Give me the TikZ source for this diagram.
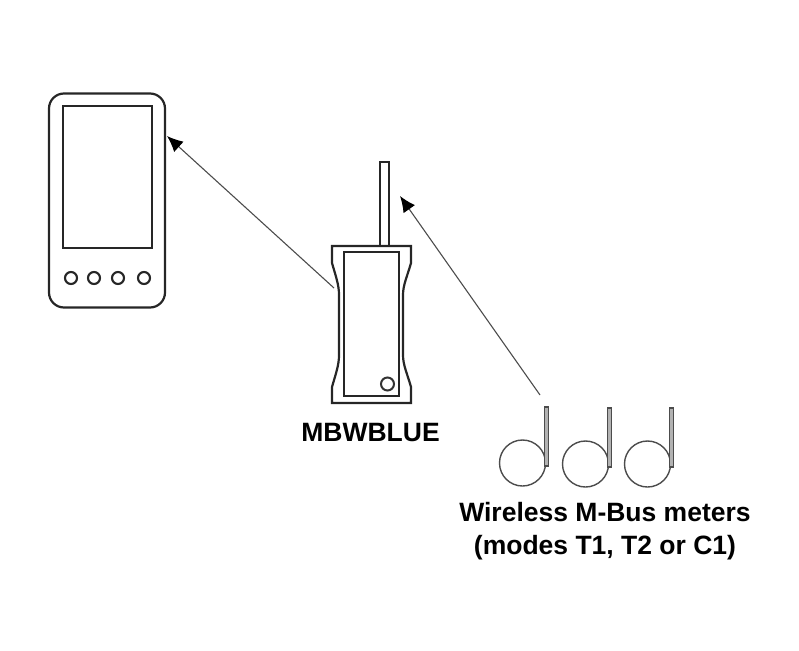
\documentclass[tikz,border=0pt]{standalone}
\usepackage{fontspec}
\setmainfont{Liberation Sans}
\usetikzlibrary{arrows.meta}
\tikzset{
  heavy/.style={draw=black!85,line width=2.2pt},
  medium/.style={draw=black!80,line width=2pt},
  meterbody/.style={circle,draw=black!70,line width=1.4pt,minimum width=46pt,inner sep=0pt},
  meterant/.style={draw=black!70,fill=black!30,line width=1.1pt,minimum width=3.6pt,inner sep=0pt},
  link/.style={draw=black!70,line width=1.1pt,-{Latex[length=16pt,width=14pt,black]}},
  lab/.style={font=\bfseries\fontsize{26.5}{33}\selectfont,align=center,text=black,inner sep=0pt},
  keyb/.style={circle,draw=black!85,line width=2.1pt,minimum size=12pt,inner sep=0pt}
}
\begin{document}
\begin{tikzpicture}[x=1pt,y=-1pt]
\useasboundingbox (0,0) rectangle (799,650);
% phone
\node[heavy,rounded corners=15pt,minimum width=116pt,minimum height=214pt,inner sep=0pt] (phone) at (107,200.5) {};
\node[heavy,minimum width=89pt,minimum height=142pt,inner sep=0pt] (screen) at (107.5,177) {};
\node[keyb] (k1) at (71,278) {};
\node[keyb] (k2) at (94,278) {};
\node[keyb] (k3) at (118,278) {};
\node[keyb] (k4) at (144,278) {};
% gateway
\node[heavy,minimum width=9pt,minimum height=84pt,inner sep=0pt] (ant) at (384.5,204) {};
\draw[heavy,line join=miter] (332,246) -- (411,246) -- (411,263)
  .. controls (407,277) and (403,285) .. (403,295) -- (403,355)
  .. controls (403,365) and (407,373) .. (411,387) -- (411,403) -- (332,403) -- (332,387)
  .. controls (336,373) and (339,365) .. (339,355) -- (339,295)
  .. controls (339,285) and (336,277) .. (332,263) -- cycle;
\node[heavy,minimum width=55pt,minimum height=144pt,inner sep=0pt] (inner) at (371.5,324) {};
\node[circle,medium,minimum size=13pt,inner sep=0pt] (led) at (387.5,384) {};
\node[lab] (gwlabel) at (370.5,433) {MBWBLUE};
% meters
\node[meterbody] (m1) at (522.5,463) {};
\node[meterbody] (m2) at (585.5,464) {};
\node[meterbody] (m3) at (647.5,464) {};
\node[meterant,minimum height=59pt] (a1) at (546.5,436.5) {};
\node[meterant,minimum height=59pt] (a2) at (609.5,437.5) {};
\node[meterant,minimum height=59pt] (a3) at (671.5,437.5) {};
\node[lab] (mlabel) at (605,531.5) {Wireless M-Bus meters\\(modes T1, T2 or C1)};
% arrows
\coordinate (p1) at (334,288);
\coordinate (p2) at (167,136);
\coordinate (p3) at (540,395);
\coordinate (p4) at (400,196);
\draw[link] (p1) -- (p2);
\draw[link] (p3) -- (p4);
\end{tikzpicture}
\end{document}
